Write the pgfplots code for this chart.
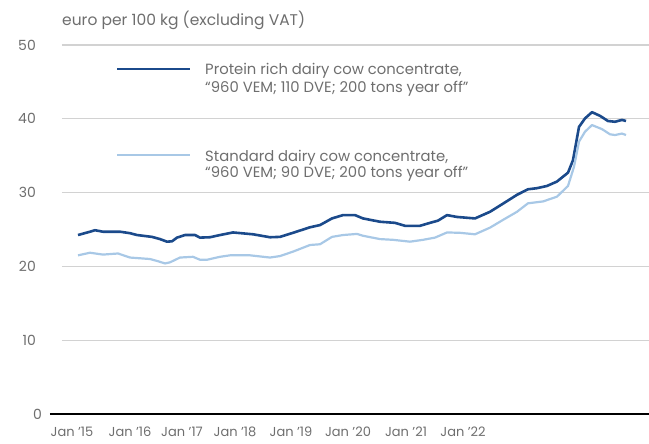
\documentclass[border=0pt]{standalone}
\usepackage{fontspec}
\setmainfont{Poppins}
\usepackage{pgfplots}
\pgfplotsset{compat=1.18}
\definecolor{navy}{HTML}{1B4A8B}
\definecolor{paleblue}{HTML}{A8C8E6}
\definecolor{txtgrey}{HTML}{6E6E6E}
\definecolor{gridgrey}{HTML}{D2D2D2}
\begin{document}
\begin{tikzpicture}[font=\fontsize{12}{14}\selectfont]
\useasboundingbox (0,0) rectangle (649pt,444pt);
\begin{axis}[
    at={(62pt,30pt)}, anchor=south west,
    scale only axis, width=587pt, height=369pt,
    xmin=62, xmax=649, ymin=0, ymax=50,
    axis line style={draw=none},
    major tick length=0pt,
    ytick={0,10,20,30,40,50},
    yticklabels={0\kern-6pt,10,20,30,40,50},
    xtick={72,130,182,235,291,348,406,463},
    xticklabels={Jan ’15,Jan ’16,Jan ’17,Jan ’18,Jan ’19,Jan ’20,Jan ’21,Jan ’22},
    ymajorgrids,
    grid style={gridgrey, line width=1.3pt},
    tick label style={text=txtgrey, inner sep=0pt},
    yticklabel style={anchor=east, xshift=-26pt, font=\fontsize{14}{16}\selectfont},
    xticklabel style={anchor=base, yshift=-23pt, font=\fontsize{13}{15}\selectfont},
    /pgf/number format/assume math mode=true,
    clip=false,
  ]
\addplot[navy, line width=2.6pt, line join=round] coordinates {
  (78,24.25) (90,24.7) (95,24.9) (103,24.7) (120,24.7) (130,24.5) (137,24.25)
  (152,24.0) (160,23.7) (167,23.35) (172,23.4) (177,23.9) (185,24.25) (195,24.25)
  (200,23.9) (210,23.95) (220,24.25) (233,24.6) (253,24.35) (270,23.95) (280,24.0)
  (293,24.55) (310,25.3) (320,25.6) (332,26.5) (343,26.95) (355,26.95) (363,26.5)
  (380,26.05) (395,25.9) (405,25.5) (420,25.5) (430,25.9) (438,26.2) (447,26.95)
  (457,26.7) (475,26.5) (490,27.4) (503,28.5) (517,29.7) (528,30.45) (537,30.6)
  (547,30.9) (557,31.5) (568,32.7) (573,34.4) (579,38.9) (585,40.05) (592,40.9)
  (600,40.4) (608,39.7) (615,39.6) (622,39.85) (626,39.7)};
\addplot[paleblue, line width=2.2pt, line join=round] coordinates {
  (78,21.5) (90,21.85) (103,21.6) (118,21.75) (130,21.2) (150,21.0) (158,20.7)
  (165,20.4) (170,20.55) (180,21.2) (193,21.3) (200,20.9) (207,20.9) (220,21.3)
  (230,21.5) (250,21.5) (270,21.2) (280,21.4) (293,22.0) (310,22.9) (320,23.0)
  (332,24.0) (343,24.25) (357,24.4) (363,24.15) (380,23.7) (393,23.6) (410,23.35)
  (423,23.6) (435,23.9) (447,24.6) (460,24.55) (475,24.35) (490,25.25) (503,26.3)
  (517,27.4) (528,28.55) (543,28.8) (557,29.45) (568,30.9) (574,33.5) (579,36.9)
  (585,38.25) (592,39.15) (602,38.6) (610,37.9) (615,37.8) (622,38.0) (626,37.8)};
% zero line runs a little past the grid on the left
\draw[black, line width=2.6pt] (axis cs:50,0) -- (axis cs:649,0);
\end{axis}
\node[anchor=west, text=txtgrey, inner sep=0pt, font=\fontsize{15.5}{18}\selectfont] at (62pt,424pt) {euro per 100 kg (excluding VAT)};
% legend
\begin{scope}[every node/.style={anchor=base west, text=txtgrey, inner sep=0pt, font=\fontsize{14.8}{17}\selectfont}]
\draw[navy, line width=2.6pt] (117pt,375pt) -- (190pt,375pt);
\node at (205pt,369pt) {Protein rich dairy cow concentrate,};
\node at (205pt,351pt) {“960 VEM; 110 DVE; 200 tons year off”};
\draw[paleblue, line width=2.2pt] (117pt,289pt) -- (190pt,289pt);
\node at (205pt,282pt) {Standard dairy cow concentrate,};
\node at (205pt,266pt) {“960 VEM; 90 DVE; 200 tons year off”};
\end{scope}
\end{tikzpicture}
\end{document}
